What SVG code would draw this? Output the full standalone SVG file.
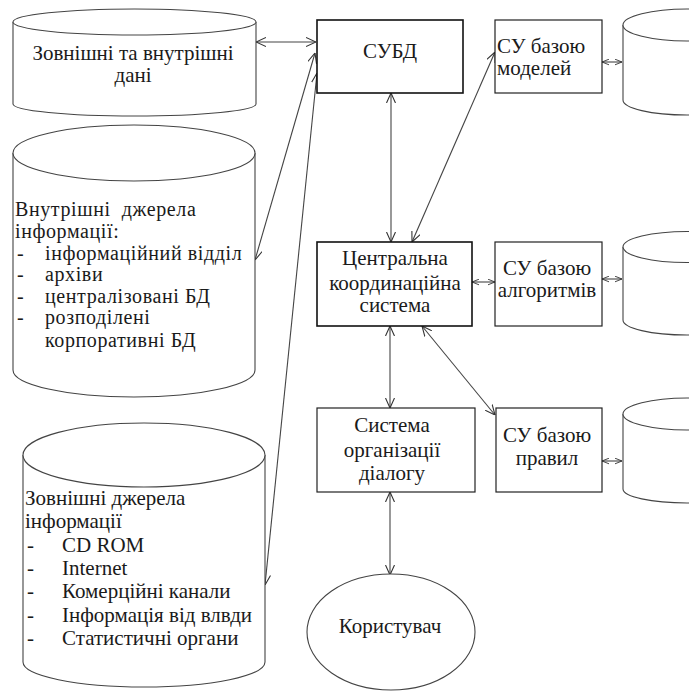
<svg xmlns="http://www.w3.org/2000/svg" width="689" height="691" viewBox="0 0 689 691">
<defs>
<style>
text{font-family:"Liberation Serif","Times New Roman",serif;font-size:21px;fill:#1a1a1a}
.c{text-anchor:middle}
.t2{font-size:20px;letter-spacing:0.6px}
.box{fill:#fff;stroke:#111;stroke-width:1.6}
.box2{fill:#fff;stroke:#222;stroke-width:1.2}
.cyl{fill:#fff;stroke:#444;stroke-width:1.1}
.ln{fill:none;stroke:#444;stroke-width:1.1;marker-start:url(#a);marker-end:url(#a)}
.sm{fill:none;stroke:#444;stroke-width:1.1;marker-start:url(#s);marker-end:url(#s)}
</style>
<marker id="a" viewBox="0 0 10 10" refX="10" refY="5" markerWidth="10" markerHeight="10" markerUnits="userSpaceOnUse" orient="auto-start-reverse"><path d="M0,0.5 L10,5 L0,9.5" fill="none" stroke="#333" stroke-width="1.1"/></marker>
<marker id="s" viewBox="0 0 10 10" refX="10" refY="5" markerWidth="7" markerHeight="7" markerUnits="userSpaceOnUse" orient="auto-start-reverse"><path d="M0,1 L10,5 L0,9" fill="none" stroke="#333" stroke-width="1.3"/></marker>
</defs>
<rect width="689" height="691" fill="#fff"/>

<g id="connectors">
<line class="ln" x1="256" y1="42" x2="316" y2="42"/>
<line class="ln" x1="391" y1="93" x2="391" y2="242"/>
<line class="ln" x1="412" y1="242" x2="495" y2="52"/>
<line class="ln" x1="390" y1="326" x2="390" y2="408"/>
<line class="ln" x1="422" y1="326" x2="495" y2="415"/>
<line class="ln" x1="390" y1="492" x2="390" y2="575"/>
<line class="ln" x1="255" y1="260" x2="315" y2="53"/>
<line class="ln" x1="265" y1="585" x2="317" y2="73"/>
<line class="sm" x1="472" y1="282" x2="495" y2="282"/>
<line class="sm" x1="602" y1="62" x2="622" y2="62"/>
<line class="sm" x1="602" y1="279" x2="622" y2="279"/>
<line class="sm" x1="602" y1="461" x2="622" y2="461"/>
</g>

<g id="cyl-data">
<path class="cyl" d="M13,22 L13,104 A121.5,12 0 0 0 256,104 L256,22"/>
<ellipse class="cyl" cx="134.5" cy="22" rx="121.5" ry="13"/>
<text class="c" x="133" y="60">Зовнішні та внутрішні</text>
<text class="c" x="133" y="82">дані</text>
</g>

<g id="cyl-internal">
<path class="cyl" d="M13,153 L13,370 A121,27 0 0 0 255,370 L255,153"/>
<ellipse class="cyl" cx="134" cy="153" rx="121" ry="28"/>
<text class="t2" x="15" y="216">Внутрішні&#160; джерела</text>
<text class="t2" x="15" y="238">інформації:</text>
<text class="t2" x="17" y="260">-</text><text class="t2" x="45" y="260">інформаційний відділ</text>
<text class="t2" x="17" y="281">-</text><text class="t2" x="45" y="281">архіви</text>
<text class="t2" x="17" y="303">-</text><text class="t2" x="45" y="303">централізовані БД</text>
<text class="t2" x="17" y="324">-</text><text class="t2" x="45" y="324">розподілені</text>
<text class="t2" x="45" y="347">корпоративні БД</text>
</g>

<g id="cyl-external">
<path class="cyl" d="M23,455 L23,662 A121,25 0 0 0 265,662 L265,455"/>
<ellipse class="cyl" cx="144" cy="455" rx="121" ry="32"/>
<text x="25" y="505">Зовнішні джерела</text>
<text x="25" y="528">інформації</text>
<text x="27" y="552">-</text><text x="62" y="552">CD ROM</text>
<text x="27" y="575">-</text><text x="62" y="575">Internet</text>
<text x="27" y="598">-</text><text x="62" y="598">Комерційні канали</text>
<text x="27" y="622">-</text><text x="62" y="622">Інформація від влвди</text>
<text x="27" y="645">-</text><text x="62" y="645">Статистичні органи</text>
</g>

<g id="subd">
<rect class="box" x="317" y="20" width="146" height="73"/>
<text class="c" x="390" y="58">СУБД</text>
</g>

<g id="su-models">
<rect class="box2" x="495" y="20" width="107" height="73"/>
<text x="497" y="53">СУ базою</text>
<text x="497" y="75">моделей</text>
</g>

<g id="central">
<rect class="box" x="317" y="242" width="155" height="84"/>
<text class="c" x="395" y="265">Центральна</text>
<text class="c" x="395" y="290">координаційна</text>
<text class="c" x="395" y="312">система</text>
</g>

<g id="su-algorithms">
<rect class="box2" x="495" y="242" width="107" height="84"/>
<text class="c" x="547" y="275">СУ базою</text>
<text class="c" x="547" y="297">алгоритмів</text>
</g>

<g id="dialog">
<rect class="box2" x="317" y="408" width="158" height="84"/>
<text class="c" x="392" y="432">Система</text>
<text class="c" x="392" y="457">організації</text>
<text class="c" x="392" y="480">діалогу</text>
</g>

<g id="su-rules">
<rect class="box2" x="496" y="408" width="106" height="84"/>
<text class="c" x="547" y="442">СУ базою</text>
<text class="c" x="547" y="465">правил</text>
</g>

<g id="cyl-models">
<path class="cyl" d="M623,25 L623,100 A64,15 0 0 0 751,100 L751,25"/>
<ellipse class="cyl" cx="687" cy="25" rx="64" ry="16"/>
</g>
<g id="cyl-algorithms">
<path class="cyl" d="M623,247 L623,320 A64,15 0 0 0 751,320 L751,247"/>
<ellipse class="cyl" cx="687" cy="247" rx="64" ry="15.5"/>
</g>
<g id="cyl-rules">
<path class="cyl" d="M623,414 L623,489 A64,14 0 0 0 751,489 L751,414"/>
<ellipse class="cyl" cx="687" cy="414" rx="64" ry="16"/>
</g>

<g id="user">
<ellipse class="cyl" cx="391" cy="632" rx="84" ry="58"/>
<text class="c" x="390" y="633">Користувач</text>
</g>
</svg>
